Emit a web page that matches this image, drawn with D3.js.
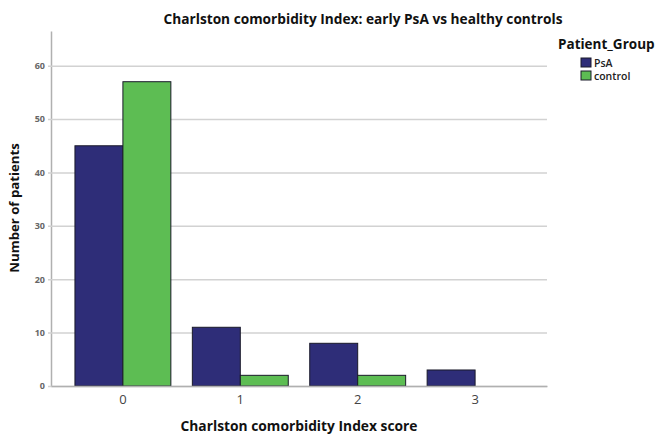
<!DOCTYPE html>
<html><head><meta charset="utf-8">
<script src="https://cdn.jsdelivr.net/npm/d3@7"></script>
<style>body{margin:0;background:#fff}svg{display:block}</style>
</head><body>
<svg id="c" width="656" height="434"></svg>
<script>
const categories = ["0","1","2","3"];
const groups = ["PsA","control"];
const psaValues = [45, 11, 8, 3];
const controlValues = [57, 2, 2, 0];
const yTicks = [0,10,20,30,40,50,60];
const colors = ["#2e2d78","#5dbd53"];

const svg = d3.select("#c");
const font = "'Open Sans', sans-serif";
const m = {left:51, right:547, top:31, bottom:386};
const x = d3.scaleBand().domain(categories).range([m.left, m.right]).paddingInner(0.183).paddingOuter(0.204);
const xs = d3.scaleBand().domain(groups).range([0, x.bandwidth()]);
const y = d3.scaleLinear().domain([0, 66.5]).range([m.bottom, m.top]);

// gridlines
const gy = svg.append("g").attr("transform",`translate(${m.left},0)`)
  .call(d3.axisLeft(y).tickValues(yTicks).tickSize(-(m.right-m.left)).tickSizeOuter(0).tickPadding(6));
gy.select(".domain").attr("stroke","#b0b0b0").attr("stroke-width",1.5);
gy.selectAll(".tick line").attr("stroke","#d2d2d2").attr("stroke-width",1.5).attr("x1",-3);
gy.selectAll(".tick text").attr("font-family",font).attr("font-size",9).attr("font-weight",700).attr("fill","#666");

// bars
const data = categories.map((c,i)=>({c, vals:[psaValues[i], controlValues[i]]}));
const gBars = svg.append("g");
data.forEach(d=>{
  d.vals.forEach((v,j)=>{
    if(v<=0) return;
    gBars.append("rect")
      .attr("x", x(d.c)+xs(groups[j]))
      .attr("y", y(v))
      .attr("width", xs.bandwidth())
      .attr("height", y(0)-y(v))
      .attr("fill", colors[j])
      .attr("stroke","#1a1a2a").attr("stroke-width",1);
  });
});

// x axis
const gx = svg.append("g").attr("transform",`translate(0,${m.bottom})`)
  .call(d3.axisBottom(x).tickSize(0).tickPadding(9));
gx.select(".domain").attr("stroke","#b0b0b0").attr("stroke-width",1.5);
gx.selectAll(".tick text").attr("font-family",font).attr("font-size",13).attr("fill","#444");

// titles
svg.append("text").attr("x",363).attr("y",24).attr("text-anchor","middle")
  .attr("font-family",font).attr("font-size",13.7).attr("font-weight",700).attr("fill","#111")
  .text("Charlston comorbidity Index: early PsA vs healthy controls");
svg.append("text").attr("x",(m.left+m.right)/2).attr("y",431).attr("text-anchor","middle")
  .attr("font-family",font).attr("font-size",13.8).attr("font-weight",700).attr("fill","#111")
  .text("Charlston comorbidity Index score");
svg.append("text").attr("transform",`translate(19,208) rotate(-90)`).attr("text-anchor","middle")
  .attr("font-family",font).attr("font-size",13.2).attr("font-weight",700).attr("fill","#111")
  .text("Number of patients");

// legend
const lg = svg.append("g");
lg.append("text").attr("x",558).attr("y",49).attr("font-family",font).attr("font-size",13.5).attr("font-weight",700).attr("fill","#111").text("Patient_Group");
groups.forEach((g,i)=>{
  lg.append("rect").attr("x",581).attr("y",58+i*13).attr("width",10).attr("height",9).attr("fill",colors[i]).attr("stroke","#1a1a2a").attr("stroke-width",1);
  lg.append("text").attr("x",594).attr("y",66.5+i*13).attr("font-family",font).attr("font-size",10.5).attr("font-weight",600).attr("fill","#222").text(g);
});
</script>
</body></html>
